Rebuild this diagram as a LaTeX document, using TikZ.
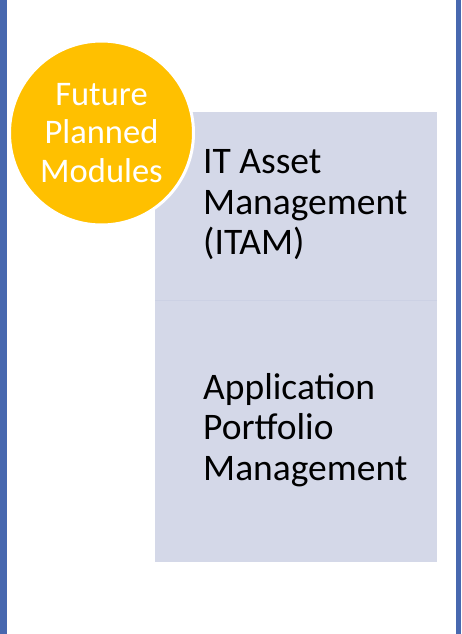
\documentclass[tikz,border=0pt]{standalone}
\usepackage{fontspec}
\setmainfont{Carlito}
\usetikzlibrary{positioning}
\definecolor{frameblue}{RGB}{72,104,175}
\definecolor{modfill}{RGB}{212,216,232}
\definecolor{modline}{RGB}{204,209,228}
\definecolor{planyellow}{RGB}{255,192,0}

\begin{document}
\begin{tikzpicture}[x=1pt,y=-1pt]
\tikzstyle{every node}+=[inner sep=0pt]
\tikzstyle{module}=[fill=modfill, anchor=north west, minimum width=282pt]
\tikzstyle{modtext}=[align=left, anchor=west, font=\fontsize{37.5}{40.5}\selectfont]
\tikzstyle{plan}=[circle, fill=planyellow, draw=white, line width=3pt, minimum size=184pt, text=white, align=center, font=\fontsize{34.5}{38.5}\selectfont]
\useasboundingbox (0,0) rectangle (461,634);
\fill [white] (0,0) rectangle (461,634);
% side frame
\fill [frameblue] (0,0) rectangle (7,634);
\fill [frameblue] (456,0) rectangle (461,634);
% module boxes
\node [module, minimum height=188pt] (itam) at (155,112) {};
\node [module, minimum height=261pt] (apm) [below=0pt of itam] {};
\draw [modline, line width=1pt] (itam.south west) -- (itam.south east);
\node [modtext] (itamtext) at (203,205) {IT Asset\\Management\\(ITAM)};
\node [modtext] (apmtext) at (203,430) {Application\\Portfolio\\Management};
% badge
\node [plan] (future) at (101.5,133) {Future\\Planned\\Modules};
\end{tikzpicture}
\end{document}
